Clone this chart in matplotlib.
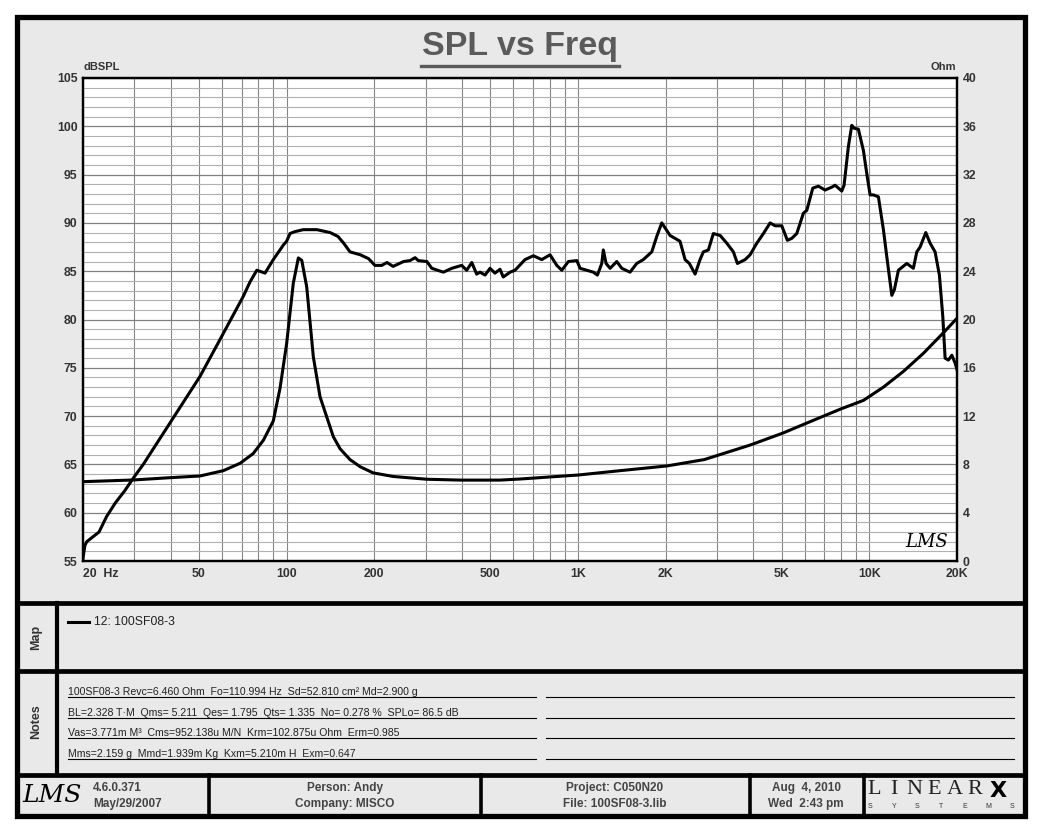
import numpy as np
import matplotlib.pyplot as plt
from matplotlib.patches import Rectangle

plt.rcParams['font.family'] = ['Liberation Sans', 'DejaVu Sans']

# SPL curve (Hz, dBSPL)
spl_freq = [20, 20.3, 20.6, 22.7, 24.1, 25.8, 27.7, 28.3, 29.8, 32.2, 39.8, 50.4, 59, 71,
            74.9, 79, 84.3, 90, 97.4, 100, 102.7, 106.9, 114, 127, 141, 150, 157, 165,
            179, 191, 201, 212, 221, 232, 252, 265, 276, 283, 303, 315, 345, 369, 399,
            415, 432, 449, 461, 480, 499, 519, 540, 554, 585, 608, 658, 703, 751, 802,
            846, 880, 927, 991, 1017, 1072, 1129, 1166, 1207, 1222, 1249, 1289, 1359,
            1414, 1509, 1591, 1676, 1792, 1864, 1939, 2070, 2154, 2240, 2332, 2412, 2524,
            2624, 2694, 2803, 2916, 3076, 3242, 3416, 3526, 3747, 3898, 4110, 4331, 4566,
            4750, 5007, 5234, 5418, 5637, 5940, 6102, 6398, 6688, 7052, 7435, 7630, 8045,
            8192, 8476, 8706, 8866, 9173, 9544, 9802, 10062, 10329, 10746, 11180, 11483,
            11947, 12195, 12585, 13448, 14167, 14555, 14938, 15628, 16169, 16819, 17402,
            17877, 18206, 18686, 19196, 19702, 20000]
spl_db = [55.3, 56.6, 57.0, 58.0, 59.6, 61.0, 62.2, 62.6, 63.6, 65.0, 69.3, 74.1, 77.9, 82.4,
          83.9, 85.1, 84.8, 86.2, 87.7, 88.1, 88.9, 89.1, 89.3, 89.3, 89.0, 88.6, 87.9, 87.0,
          86.7, 86.3, 85.6, 85.6, 85.9, 85.5, 86.0, 86.1, 86.4, 86.1, 86.0, 85.3, 84.9, 85.3, 85.6,
          85.1, 85.9, 84.7, 84.9, 84.6, 85.3, 84.8, 85.2, 84.4, 84.9, 85.1, 86.2, 86.6, 86.2, 86.7,
          85.6, 85.1, 86.0, 86.1, 85.3, 85.1, 84.9, 84.6, 85.8, 87.2, 85.8, 85.3, 86.0,
          85.3, 84.9, 85.8, 86.2, 87.0, 88.6, 90.0, 88.7, 88.4, 88.1, 86.2, 85.8, 84.7,
          86.2, 87.0, 87.2, 88.9, 88.7, 87.9, 87.0, 85.8, 86.2, 86.7, 87.9, 88.9, 90.0,
          89.7, 89.7, 88.2, 88.4, 88.9, 91.0, 91.3, 93.6, 93.8, 93.4, 93.7, 93.9, 93.3,
          93.9, 97.9, 100.1, 99.8, 99.7, 97.5, 95.1, 92.9, 92.9, 92.7, 89.3, 86.5,
          82.5, 83.1, 85.1, 85.8, 85.3, 87.0, 87.5, 89.0, 87.9, 87.0, 84.6,
          80.3, 76.0, 75.8, 76.3, 75.5, 74.8]

# impedance curve (Hz, Ohm)
imp_freq = [20, 29.8, 39.8, 50.4, 60.6, 69.2, 76.8, 83.2, 90, 94.9, 100, 105.4, 109.7, 112.7,
            117.2, 123.5, 130.2, 137, 144.6, 152.5, 165, 179, 198, 232, 303, 394, 540, 633,
            1001, 1394, 2018, 2714, 3898, 5058, 6500, 8000, 9544, 11180, 13092, 15335,
            17960, 20000]
imp_ohm = [6.57, 6.71, 6.9, 7.04, 7.48, 8.09, 8.9, 10.0, 11.6, 14.3, 18.0, 23.0, 25.1, 24.9,
           22.7, 16.9, 13.6, 12.0, 10.3, 9.3, 8.4, 7.8, 7.3, 7.0, 6.77, 6.7, 6.7, 6.79,
           7.12, 7.48, 7.87, 8.4, 9.6, 10.6, 11.7, 12.6, 13.3, 14.4, 15.7, 17.2,
           18.9, 20.1]

spl_ticks = list(range(55, 106, 5))
ohm_ticks = list(range(0, 41, 4))
freq_ticks = [20, 50, 100, 200, 500, 1000, 2000, 5000, 10000, 20000]
freq_labels = ['20  Hz', '50', '100', '200', '500', '1K', '2K', '5K', '10K', '20K']
grid_freqs = [20, 30, 40, 50, 60, 70, 80, 90, 100, 200, 300, 400, 500, 600, 700, 800, 900,
              1000, 2000, 3000, 4000, 5000, 6000, 7000, 8000, 9000, 10000, 20000]

note_lines = [
    "100SF08-3 Revc=6.460 Ohm  Fo=110.994 Hz  Sd=52.810 cm\u00b2 Md=2.900 g",
    "BL=2.328 T\u00b7M  Qms= 5.211  Qes= 1.795  Qts= 1.335  No= 0.278 %  SPLo= 86.5 dB",
    "Vas=3.771m M\u00b3  Cms=952.138u M/N  Krm=102.875u Ohm  Erm=0.985",
    "Mms=2.159 g  Mmd=1.939m Kg  Kxm=5.210m H  Exm=0.647",
]

W, H = 1040, 832
fig = plt.figure(figsize=(W / 100, H / 100), dpi=100, facecolor='white')

# page decoration in pixel coordinates
bg = fig.add_axes([0, 0, 1, 1])
bg.set_xlim(0, W)
bg.set_ylim(H, 0)
bg.axis('off')
bg.add_patch(Rectangle((16.5, 16.5), 1008, 799, fc='#e9e9e9', ec='black', lw=3.8))
for yy in [603, 671, 774.5]:
    bg.plot([16.5, 1024.5], [yy, yy], color='black', lw=3.4, solid_capstyle='butt')
bg.plot([57, 57], [603, 774.5], color='black', lw=3.0)
for xx in [209, 481, 749.5, 863.5]:
    bg.plot([xx, xx], [774.5, 815.5], color='black', lw=2.6)

# title
bg.text(520, 47, 'SPL vs Freq', ha='center', va='center', fontsize=24.5,
        fontweight='bold', color='#5a5a5a')
bg.plot([421, 619], [65.5, 65.5], color='#5a5a5a', lw=2.4)

lab = dict(fontsize=8, fontweight='bold', color='#333333')
bg.text(83, 67, 'dBSPL', ha='left', va='center', **lab)
bg.text(956, 67, 'Ohm', ha='right', va='center', **lab)

side = dict(fontsize=9, fontweight='bold', color='#333333', rotation=90,
            ha='center', va='center')

# map section
bg.text(36, 637, 'Map', **side)
bg.plot([68, 89], [622, 622], color='black', lw=2.2)
bg.text(94, 622, '12: 100SF08-3', ha='left', va='center', fontsize=8.8, color='#222222')

# notes section
bg.text(36, 722, 'Notes', **side)
for yy, txt in zip([697.3, 718.3, 738.3, 759.3], note_lines):
    bg.plot([68, 536], [yy, yy], color='black', lw=0.8)
    bg.plot([546, 1014], [yy, yy], color='black', lw=0.8)
    bg.text(68, yy - 2, txt, ha='left', va='baseline', fontsize=7.6, color='#222222')

# footer
foot = dict(fontsize=8.5, fontweight='bold', color='#444444', va='center')
bg.text(52, 796, 'LMS', ha='center', va='center', fontsize=18, style='italic',
        family='DejaVu Serif', color='black')
bg.text(93, 788, '4.6.0.371', ha='left', **foot)
bg.text(93, 804, 'May/29/2007', ha='left', **foot)
bg.text(345, 788, 'Person: Andy', ha='center', **foot)
bg.text(345, 804, 'Company: MISCO', ha='center', **foot)
bg.text(615, 788, 'Project: C050N20', ha='center', **foot)
bg.text(615, 804, 'File: 100SF08-3.lib', ha='center', **foot)
bg.text(806, 788, 'Aug  4, 2010', ha='center', **foot)
bg.text(806, 804, 'Wed  2:43 pm', ha='center', **foot)
for cx, ch in zip(np.linspace(874, 975, 6), 'LINEAR'):
    bg.text(cx, 790, ch, ha='center', va='center', fontsize=16, family='Liberation Serif',
            color='#222222')
bg.text(998, 791, 'X', ha='center', va='center', fontsize=16, fontweight='heavy',
        family='DejaVu Sans', color='black')
for cx, ch in zip(np.linspace(870, 1012, 7), 'SYSTEMS'):
    bg.text(cx, 807, ch, ha='center', va='center', fontsize=5, color='#333333')

# chart
ax = fig.add_axes([83 / W, 1 - 561 / H, 874 / W, 483 / H])
ax.set_facecolor('white')
ax.set_xscale('log')
ax.set_xlim(20, 20000)
ax.set_ylim(55, 105)
ax.set_axisbelow(True)
ax.set_xticks(freq_ticks)
ax.set_xticklabels(freq_labels)
ax.set_xticks(grid_freqs, minor=True)
ax.set_yticks(spl_ticks)
ax.set_yticks(np.arange(55, 106, 1), minor=True)
ax.xaxis.set_minor_formatter(plt.NullFormatter())
ax.tick_params(which='both', length=0)
ax.tick_params(axis='x', pad=5, labelsize=8.8, labelcolor='#333333')
ax.tick_params(axis='y', pad=4, labelsize=8.8, labelcolor='#333333')
for t in ax.get_xticklabels() + ax.get_yticklabels():
    t.set_fontweight('bold')
ax.get_xticklabels()[0].set_horizontalalignment('left')
ax.get_xticklabels()[0].set_x(19.6)
ax.grid(True, which='minor', axis='x', color='#858585', lw=0.8)
ax.grid(True, which='major', axis='x', color='#858585', lw=0.8)
ax.grid(True, which='minor', axis='y', color='#b0b0b0', lw=0.8)
ax.grid(True, which='major', axis='y', color='#808080', lw=0.9)
for s in ax.spines.values():
    s.set_linewidth(1.6)
    s.set_color('black')

ax.plot(spl_freq, spl_db, color='black', lw=2.2, solid_joinstyle='round')
ax.text(0.965, 0.04, 'LMS', transform=ax.transAxes, ha='center', va='center', fontsize=13,
        style='italic', family='DejaVu Serif', color='black')

ax2 = ax.twinx()
ax2.set_ylim(0, 40)
ax2.set_yticks(ohm_ticks)
ax2.tick_params(length=0, pad=4, labelsize=8.8, labelcolor='#333333')
for t in ax2.get_yticklabels():
    t.set_fontweight('bold')
for s in ax2.spines.values():
    s.set_linewidth(1.6)
ax2.plot(imp_freq, imp_ohm, color='black', lw=2.2, solid_joinstyle='round')

fig.savefig('out.png', dpi=100, facecolor='white')
